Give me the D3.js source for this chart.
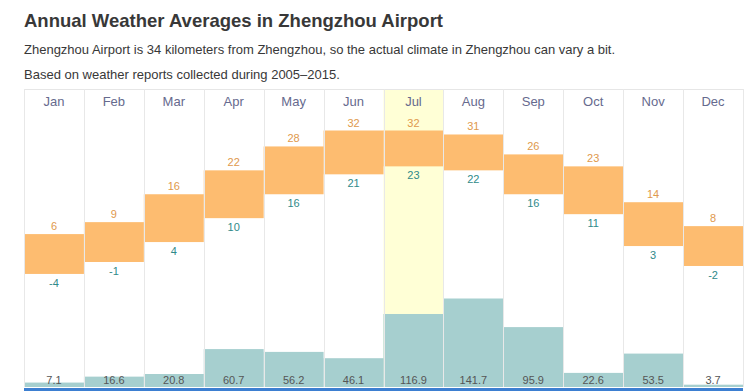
<!DOCTYPE html>
<html><head><meta charset="utf-8">
<script src="https://cdn.jsdelivr.net/npm/d3@7"></script>
<style>body{margin:0;background:#fff;font-family:"Liberation Sans",Arial,sans-serif;}</style>
</head><body>
<svg id="c" width="750" height="391"></svg>
<script>
const months = ["Jan","Feb","Mar","Apr","May","Jun","Jul","Aug","Sep","Oct","Nov","Dec"];
const highs = [6,9,16,22,28,32,32,31,26,23,14,8];
const lows = [-4,-1,4,10,16,21,23,22,16,11,3,-2];
const precip = [7.1,16.6,20.8,60.7,56.2,46.1,116.9,141.7,95.9,22.6,53.5,3.7];
const highlightMonth = "Jul";

const svg = d3.select("#c");
const cLeft = 24, cRight = 743, cTop = 89, cBottom = 387;
const x = d3.scaleBand().domain(months).range([cLeft, cRight]).padding(0);
const yT = d3.scaleLinear().domain([0, 32]).range([258, 130.5]);
const yP = d3.scaleLinear().domain([0, 141.7]).range([cBottom, 298.5]);

svg.append("text").attr("x",24).attr("y",27).attr("font-size",18.5).attr("font-weight","bold").attr("fill","#383838").text("Annual Weather Averages in Zhengzhou Airport");
svg.append("text").attr("x",24).attr("y",54).attr("font-size",13).attr("fill","#383838").text("Zhengzhou Airport is 34 kilometers from Zhengzhou, so the actual climate in Zhengzhou can vary a bit.");
svg.append("text").attr("x",24).attr("y",79).attr("font-size",13).attr("fill","#383838").text("Based on weather reports collected during 2005–2015.");

// highlight
svg.append("rect").attr("x",x(highlightMonth)).attr("y",cTop).attr("width",x.bandwidth()).attr("height",cBottom-cTop).attr("fill","#ffffd6");

// precip bars
svg.selectAll(".p").data(months).join("rect")
  .attr("x",d=>x(d)).attr("width",x.bandwidth())
  .attr("y",(d,i)=>yP(precip[i])).attr("height",(d,i)=>cBottom-yP(precip[i]))
  .attr("fill","#a6cfcf");

// temp bars
svg.selectAll(".t").data(months).join("rect")
  .attr("x",d=>x(d)).attr("width",x.bandwidth())
  .attr("y",(d,i)=>yT(highs[i])).attr("height",(d,i)=>yT(lows[i])-yT(highs[i]))
  .attr("fill","#fdbc70");

// grid lines
svg.append("line").attr("x1",cLeft).attr("x2",cRight).attr("y1",cTop+0.5).attr("y2",cTop+0.5).attr("stroke","#e6e6e6");
const bounds = months.map(m=>x(m)).concat([cRight]);
svg.selectAll(".g").data(bounds).join("line")
  .attr("x1",d=>Math.round(d)+0.5).attr("x2",d=>Math.round(d)+0.5)
  .attr("y1",cTop).attr("y2",cBottom).attr("stroke","#e8e8e8");

// month labels
svg.selectAll(".m").data(months).join("text")
  .attr("x",d=>x(d)+x.bandwidth()/2).attr("y",106).attr("text-anchor","middle")
  .attr("font-size",13).attr("fill","#666a8e").text(d=>d);

// high labels
svg.selectAll(".hl").data(months).join("text")
  .attr("x",d=>x(d)+x.bandwidth()/2).attr("y",(d,i)=>yT(highs[i])-4).attr("text-anchor","middle")
  .attr("font-size",11).attr("fill","#e0994c").text((d,i)=>highs[i]);
// low labels
svg.selectAll(".ll").data(months).join("text")
  .attr("x",d=>x(d)+x.bandwidth()/2).attr("y",(d,i)=>yT(lows[i])+13).attr("text-anchor","middle")
  .attr("font-size",11).attr("fill","#2f8a8a").text((d,i)=>lows[i]);
// precip labels
svg.selectAll(".pl").data(months).join("text")
  .attr("x",d=>x(d)+x.bandwidth()/2).attr("y",384).attr("text-anchor","middle")
  .attr("font-size",11).attr("fill","#555").text((d,i)=>precip[i].toFixed(1));

// bottom blue line
svg.append("rect").attr("x",cLeft).attr("y",388).attr("width",cRight-cLeft).attr("height",3).attr("fill","#3d7fd1");
</script>
</body></html>
